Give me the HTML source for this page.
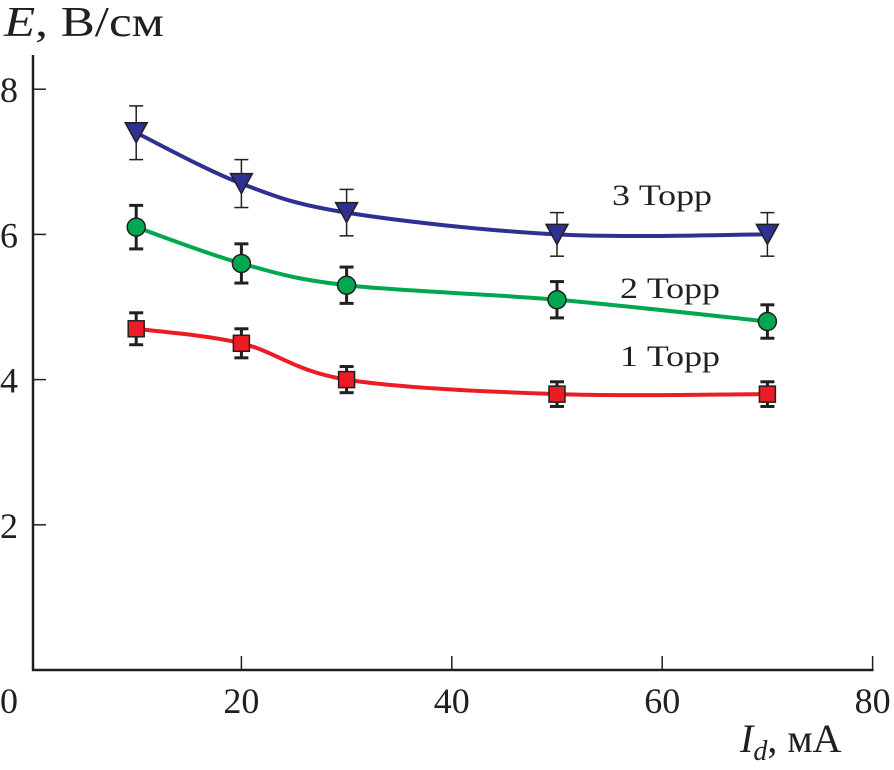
<!DOCTYPE html>
<html><head><meta charset="utf-8"><style>
html,body{margin:0;padding:0;background:#fff;}
svg text{font-family:"Liberation Serif",serif;fill:#231f20;}
</style></head><body>
<svg width="894" height="765" viewBox="0 0 894 765">
<g id="axes"></g>
<g id="series"></g>
<text x="4" y="36" font-size="42" textLength="160" lengthAdjust="spacingAndGlyphs"><tspan font-style="italic">E</tspan>, В/см</text>
<text x="740" y="752" font-size="40"><tspan font-style="italic">I</tspan><tspan font-style="italic" font-size="28" dy="8">d</tspan><tspan dy="-8">, мА</tspan></text>
</svg>
<script>
const xCats=[10,20,30,50,70];
const torr3=[7.4,6.7,6.3,6.0,6.0];
const torr3Err=[0.37,0.33,0.32,0.3,0.3];
const torr2=[6.1,5.6,5.3,5.1,4.8];
const torr2Err=[0.3,0.27,0.25,0.25,0.23];
const torr1=[4.7,4.5,4.0,3.8,3.8];
const torr1Err=[0.22,0.2,0.18,0.17,0.17];
const xTicks=[0,20,40,60,80];
const yTicks=[2,4,6,8];
const labels=["3 Торр","2 Торр","1 Торр"];

const NS="http://www.w3.org/2000/svg";
const X=v=>31+10.52*v;
const Y=v=>670-72.6*v;
function mk(tag,attrs,parent){const e=document.createElementNS(NS,tag);for(const k in attrs)e.setAttribute(k,attrs[k]);parent.appendChild(e);return e;}
const ax=document.getElementById('axes'), sg=document.getElementById('series');
let e;
e=mk('line',{x1:33,y1:55,x2:33,y2:671,stroke:'#231f20','stroke-width':2.5},ax);


e=mk('line',{x1:32,y1:670,x2:X(80)+1,y2:670,stroke:'#231f20','stroke-width':2.5},ax);


xTicks.forEach(t=>{
  if(t>0){e=mk('line',{x1:X(t),y1:670,x2:X(t),y2:656,stroke:'#231f20','stroke-width':1.5},ax);
  
  }
  e=mk('text',{x:t===0?0:X(t),y:713,'font-size':36,'text-anchor':t===0?'start':'middle'},ax);
  e.textContent=t;
  
  
});
yTicks.forEach(t=>{
  e=mk('line',{x1:33,y1:Y(t),x2:46,y2:Y(t),stroke:'#231f20','stroke-width':1.5},ax);
  
  
  e=mk('text',{x:0,y:Y(t)+13,'font-size':36},ax);
  e.textContent=t;
  
  
});
function curve(vals){
  const p=xCats.map((x,i)=>[X(x),Y(vals[i])]);
  let d=`M${p[0][0]},${p[0][1]}`;
  for(let i=0;i<p.length-1;i++){
    const p0=p[Math.max(i-1,0)],p1=p[i],p2=p[i+1],p3=p[Math.min(i+2,p.length-1)];
    const c1=[p1[0]+(p2[0]-p0[0])/6,p1[1]+(p2[1]-p0[1])/6];
    const c2=[p2[0]-(p3[0]-p1[0])/6,p2[1]-(p3[1]-p1[1])/6];
    d+=`C${c1[0]},${c1[1]} ${c2[0]},${c2[1]} ${p2[0]},${p2[1]}`;
  }
  return d;
}
const defs=[
 {v:torr3,err:torr3Err,color:'#2e3192',shape:'tri',name:'torr-3',lx:612,ly:205,thin:true},
 {v:torr2,err:torr2Err,color:'#00a650',shape:'circ',name:'torr-2',lx:620,ly:298},
 {v:torr1,err:torr1Err,color:'#ed1c24',shape:'sq',name:'torr-1',lx:620,ly:366}
];
defs.forEach((s,si)=>{
  e=mk('path',{d:curve(s.v),fill:'none',stroke:s.color,'stroke-width':4},sg);
  
  
  s.v.forEach((v,i)=>{
    const x=X(xCats[i]),y=Y(v),t=Y(v+s.err[i]),b=Y(v-s.err[i]);
    const sw=s.thin?1.5:3;
    const g=mk('g',{stroke:'#231f20','stroke-width':sw},sg);
    
    
    mk('line',{x1:x,y1:t,x2:x,y2:b},g);
    mk('line',{x1:x-7,y1:t,x2:x+7,y2:t},g);
    mk('line',{x1:x-7,y1:b,x2:x+7,y2:b},g);
    let m;
    if(s.shape==='tri') m=mk('polygon',{points:`${x-11},${y-10} ${x+11},${y-10} ${x},${y+10}`,fill:s.color,stroke:'#231f20','stroke-width':1.5},sg);
    else if(s.shape==='circ') m=mk('circle',{cx:x,cy:y,r:9,fill:s.color,stroke:'#231f20','stroke-width':1.5},sg);
    else m=mk('rect',{x:x-8,y:y-8,width:16,height:16,fill:s.color,stroke:'#231f20','stroke-width':1.5},sg);
    
    
  });
  e=mk('text',{x:s.lx,y:s.ly,'font-size':30,textLength:100,lengthAdjust:'spacingAndGlyphs'},sg);
  e.textContent=labels[si];
  
  
});
</script>
</body></html>
